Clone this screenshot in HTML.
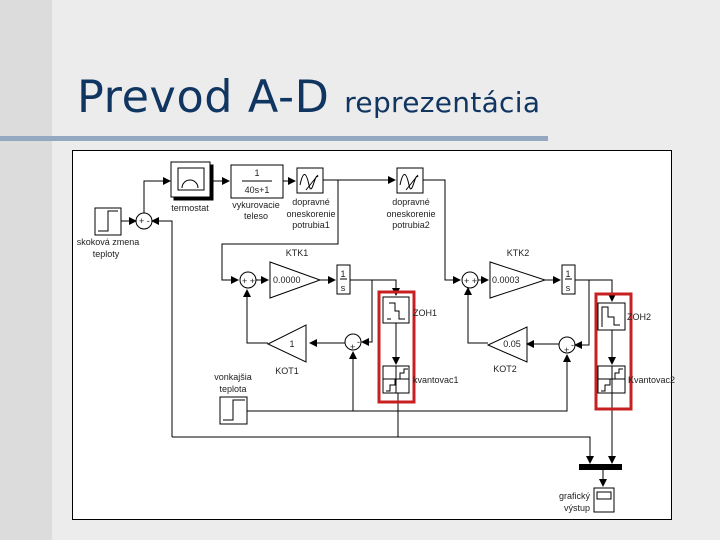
<!DOCTYPE html>
<html><head><meta charset="utf-8"><style>
body{margin:0;width:720px;height:540px;overflow:hidden;background:#ececec;position:relative;font-family:"Liberation Sans",sans-serif}
.lb{position:absolute;left:0;top:0;width:52px;height:540px;background:#dcdcdc}
.rule{position:absolute;left:0;top:136px;width:548px;height:5px;background:#94a9c1}
.t{position:absolute;left:77px;top:72px;color:#0f3560;font-size:44.5px;white-space:nowrap;font-family:"DejaVu Sans",sans-serif;letter-spacing:0.6px}
.t span{font-size:28px;letter-spacing:0.3px}
svg{position:absolute;left:0;top:0}
text{font-family:"Liberation Sans",sans-serif;font-size:9px;fill:#222}
</style></head><body>
<div class="lb"></div><div class="rule"></div>
<div class="t">Prevod A-D <span>reprezentácia</span></div>
<svg width="720" height="540" viewBox="0 0 720 540">
<defs><marker id="a" markerWidth="8" markerHeight="8" refX="7" refY="4" orient="auto" markerUnits="userSpaceOnUse"><path d="M0,0L8,4L0,8z" fill="#000"/></marker></defs>
<rect x="72.5" y="150.5" width="599" height="369" fill="#fff" stroke="#000"/>
<g fill="none" stroke="#000" stroke-width="1">
<rect x="95" y="208" width="26" height="27" fill="#fff"/><path d="M98,231h10v-20h10"/>
<path d="M121,221h15" marker-end="url(#a)"/>
<circle cx="144" cy="221" r="8"/>
<path d="M144,213v-32h26" marker-end="url(#a)"/>
<path d="M172,437v-216h-20" marker-end="url(#a)"/>
<rect x="174" y="165" width="39" height="35" fill="#000"/>
<rect x="171" y="162" width="39" height="35" fill="#fff"/>
<rect x="178" y="168" width="26" height="22"/><path d="M182,188a8,8 0 0 1 16,0"/>
<path d="M211,181h18" marker-end="url(#a)"/>
<rect x="231" y="165" width="52" height="33"/><path d="M242,181h30"/>
<path d="M283,181h12" marker-end="url(#a)"/>
<rect x="297" y="168" width="26" height="25"/><path d="M300,185c3-14,6-14,9,0s6,-14,9,-8M306,190c4-5,8-10,12-15"/>
<path d="M323,180h72" marker-end="url(#a)"/>
<rect x="397" y="168" width="26" height="25"/><path d="M400,185c3-14,6-14,9,0s6,-14,9,-8M406,190c4-5,8-10,12-15"/>
<path d="M338,180v64h-116v36h16" marker-end="url(#a)"/>
<circle cx="248" cy="280" r="8"/>
<path d="M256,280h12" marker-end="url(#a)"/>
<path d="M270,262v36l50,-18z"/>
<path d="M320,280h15" marker-end="url(#a)"/>
<rect x="337" y="265" width="13" height="29"/><path d="M340,279h7"/>
<path d="M350,280h46v15" marker-end="url(#a)"/>
<rect x="383" y="297" width="26" height="26"/><path d="M387,319h4M389,303h6v8h4v8h6"/>
<path d="M396,323v41" marker-end="url(#a)"/>
<rect x="383" y="366" width="26" height="27"/><path d="M383,379h26M396,366v27M386,391h4v-6h5v-6h5v-6h4v-4h4"/>
<path d="M398,393v44"/>
<path d="M372,280v62h-10" marker-end="url(#a)"/>
<circle cx="353" cy="342" r="8"/>
<path d="M345,343h-35" marker-end="url(#a)"/>
<path d="M306,325v37l-38,-18z"/>
<path d="M268,343h-21v-53" marker-end="url(#a)"/>
<rect x="220" y="397" width="27" height="27"/><path d="M223,420h10v-20h12"/>
<path d="M247,411h320v-56" marker-end="url(#a)"/>
<path d="M353,411v-59" marker-end="url(#a)"/>
<path d="M172,437h418v26" marker-end="url(#a)"/>
<path d="M423,180h22v100h15" marker-end="url(#a)"/>
<circle cx="470" cy="280" r="8"/>
<path d="M478,280h10" marker-end="url(#a)"/>
<path d="M490,262v36l55,-18z"/>
<path d="M545,280h15" marker-end="url(#a)"/>
<rect x="562" y="265" width="13" height="29"/><path d="M565,279h7"/>
<path d="M575,280h37v21" marker-end="url(#a)"/>
<rect x="598" y="303" width="27" height="27"/><path d="M602,327v-20h6v10h6v8h6"/>
<path d="M612,330v34" marker-end="url(#a)"/>
<rect x="598" y="366" width="27" height="27"/><path d="M598,379h27M612,366v27M601,391h4v-6h5v-6h5v-6h4v-4h4"/>
<path d="M612,393v70" marker-end="url(#a)"/>
<path d="M589,280v65h-14" marker-end="url(#a)"/>
<circle cx="567" cy="345" r="8"/>
<path d="M559,344h-32" marker-end="url(#a)"/>
<path d="M527,327v35l-39,-17z"/>
<path d="M488,343h-20v-55" marker-end="url(#a)"/>
<path d="M603,470v16" marker-end="url(#a)"/>
<rect x="594" y="488" width="20" height="24"/><rect x="597" y="492" width="14" height="7"/>
</g>
<rect x="579" y="464" width="43" height="6" fill="#000"/>
<g fill="none" stroke="#c82020" stroke-width="3">
<rect x="379" y="292" width="35" height="110"/>
<rect x="596" y="294" width="35" height="115"/>
</g>
<text x="139" y="224" font-size="8">+ -</text>
<text x="242" y="284" font-size="8">+ +</text>
<text x="464" y="284" font-size="8">+ +</text>
<text x="350" y="350" font-size="8">+</text>
<text x="357" y="345" font-size="8">-</text>
<text x="564" y="353" font-size="8">+</text>
<text x="571" y="348" font-size="8">-</text>
<g text-anchor="middle">
<text x="108" y="245">skoková zmena</text><text x="106" y="257">teploty</text>
<text x="190" y="211">termostat</text>
<text x="257" y="176">1</text><text x="257" y="193">40s+1</text>
<text x="256" y="208">vykurovacie</text><text x="256" y="219">teleso</text>
<text x="311" y="205">dopravné</text><text x="311" y="217">oneskorenie</text><text x="311" y="228">potrubia1</text>
<text x="411" y="205">dopravné</text><text x="411" y="217">oneskorenie</text><text x="411" y="228">potrubia2</text>
<text x="297" y="256">KTK1</text><text x="518" y="256">KTK2</text>
<text x="343" y="277">1</text><text x="343" y="291">s</text>
<text x="568" y="277">1</text><text x="568" y="291">s</text>
<text x="292" y="347">1</text><text x="287" y="374">KOT1</text>
<text x="512" y="347">0.05</text><text x="505" y="372">KOT2</text>
<text x="233" y="380">vonkajšia</text><text x="233" y="392">teplota</text>
</g>
<text x="273" y="283">0.0000</text><text x="492" y="283">0.0003</text>
<text x="413" y="316">ZOH1</text><text x="627" y="320">ZOH2</text>
<text x="413" y="383">kvantovac1</text><text x="628" y="383">Kvantovac2</text>
<g text-anchor="end"><text x="590" y="499">grafický</text><text x="590" y="511">výstup</text></g>
</svg>
</body></html>
